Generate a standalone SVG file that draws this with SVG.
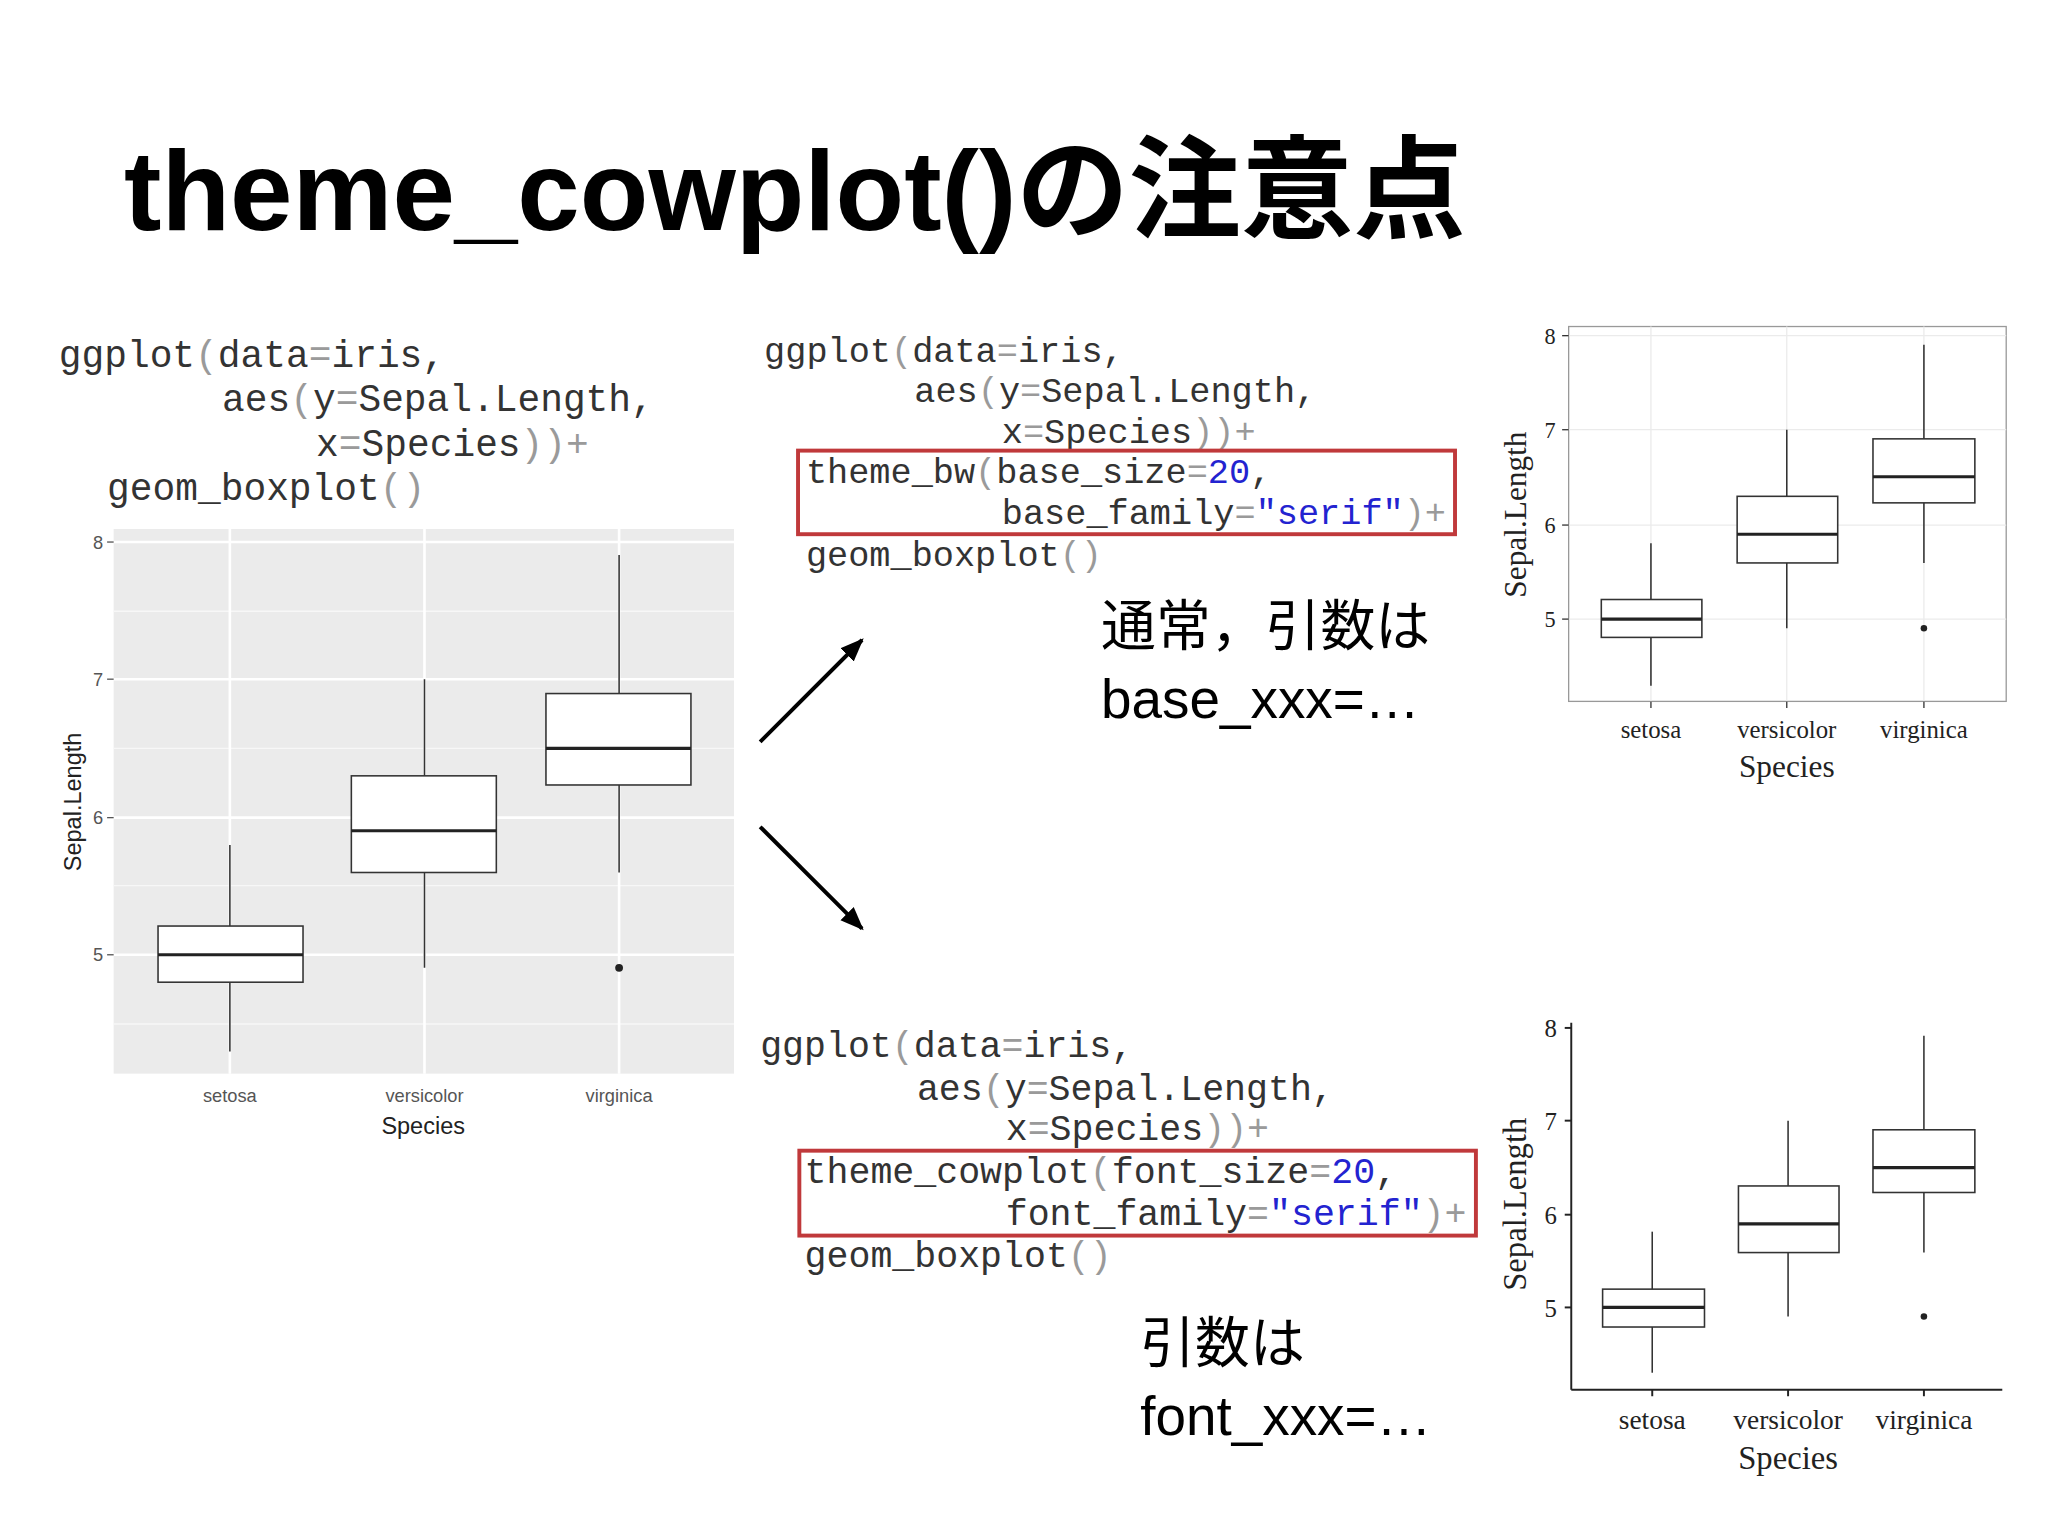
<svg xmlns="http://www.w3.org/2000/svg" width="2048" height="1536" viewBox="0 0 2048 1536">
<style>
.code{font-family:"Liberation Mono","DejaVu Sans Mono",monospace;fill:#333;}
.p{fill:#9a9a9a}
.b{fill:#2323d0}
.tk{font-family:"Liberation Sans",Arial,sans-serif;fill:#555;font-size:14px}
.sf{font-family:"Liberation Serif","Times New Roman",serif;fill:#222}
.box{fill:#fff;stroke:#333;stroke-width:1.2}
.med{stroke:#222;stroke-width:2.4}
.wh{stroke:#333;stroke-width:1.2}
.jp{font-family:"Liberation Sans","Noto Sans CJK JP",sans-serif;fill:#000}
.red{fill:none;stroke:#c0393b;stroke-width:3}
</style>
<defs>
<marker id="ah" viewBox="0 0 10 10" refX="9" refY="5" markerWidth="6" markerHeight="6" orient="auto"><path d="M0,1 L10,5 L0,9 z" fill="#000"/></marker>
</defs>
<rect width="2048" height="1536" fill="#fff"/>
<g transform="scale(1.30612)">
<text x="95" y="176" font-family="Liberation Sans,'Noto Sans CJK JP',sans-serif" font-weight="bold" font-size="86" fill="#000">theme_cowplot()の注意点</text>

<g id="code-left" class="code" font-size="29">
<text x="45" y="281">ggplot<tspan class="p">(</tspan>data<tspan class="p">=</tspan>iris,</text>
<text x="170" y="315">aes<tspan class="p">(</tspan>y<tspan class="p">=</tspan>Sepal.Length,</text>
<text x="242" y="349">x<tspan class="p">=</tspan>Species<tspan class="p">))+</tspan></text>
<text x="82" y="383">geom_boxplot<tspan class="p">()</tspan></text>
</g>

<g id="plot-left">
<rect x="87" y="405" width="475" height="417" fill="#ebebeb"/>
<g stroke="#f7f7f7" stroke-width="1"><line x1="87" x2="562" y1="784" y2="784"/><line x1="87" x2="562" y1="678" y2="678"/><line x1="87" x2="562" y1="573" y2="573"/><line x1="87" x2="562" y1="468" y2="468"/></g>
<g stroke="#fff" stroke-width="2"><line x1="87" x2="562" y1="731" y2="731"/><line x1="87" x2="562" y1="626" y2="626"/><line x1="87" x2="562" y1="520" y2="520"/><line x1="87" x2="562" y1="415" y2="415"/><line x1="176" x2="176" y1="405" y2="822"/><line x1="325" x2="325" y1="405" y2="822"/><line x1="474" x2="474" y1="405" y2="822"/></g>
<g stroke="#555"><line x1="82" x2="87" y1="731" y2="731"/><line x1="82" x2="87" y1="626" y2="626"/><line x1="82" x2="87" y1="520" y2="520"/><line x1="82" x2="87" y1="415" y2="415"/></g>
<line class="wh" x1="176" x2="176" y1="647" y2="805"/><rect class="box" x="121" y="709" width="111" height="43"/><line class="med" x1="121" x2="232" y1="731" y2="731"/>
<line class="wh" x1="325" x2="325" y1="520" y2="741"/><rect class="box" x="269" y="594" width="111" height="74"/><line class="med" x1="269" x2="380" y1="636" y2="636"/>
<line class="wh" x1="474" x2="474" y1="425" y2="668"/><rect class="box" x="418" y="531" width="111" height="70"/><line class="med" x1="418" x2="529" y1="573" y2="573"/>
<circle cx="474" cy="741" r="3" fill="#222"/>
<g class="tk" text-anchor="end"><text x="79" y="736">5</text><text x="79" y="631">6</text><text x="79" y="525">7</text><text x="79" y="420">8</text></g>
<g class="tk" text-anchor="middle"><text x="176" y="844">setosa</text><text x="325" y="844">versicolor</text><text x="474" y="844">virginica</text></g>
<text x="324" y="868" text-anchor="middle" font-family="Liberation Sans,Arial,sans-serif" font-size="18" fill="#222">Species</text>
<text transform="translate(62,614) rotate(-90)" text-anchor="middle" font-family="Liberation Sans,Arial,sans-serif" font-size="18" fill="#222">Sepal.Length</text>
</g>

<g id="connectors" stroke="#000" stroke-width="3" marker-end="url(#ah)">
<line x1="582" y1="568" x2="660" y2="490"/>
<line x1="582" y1="633" x2="660" y2="711"/>
</g>

<g id="code-top" class="code" font-size="27">
<text x="585" y="277">ggplot<tspan class="p">(</tspan>data<tspan class="p">=</tspan>iris,</text>
<text x="700" y="308">aes<tspan class="p">(</tspan>y<tspan class="p">=</tspan>Sepal.Length,</text>
<text x="767" y="339">x<tspan class="p">=</tspan>Species<tspan class="p">))+</tspan></text>
<text x="617" y="370">theme_bw<tspan class="p">(</tspan>base_size<tspan class="p">=</tspan><tspan class="b">20</tspan>,</text>
<text x="767" y="401">base_family<tspan class="p">=</tspan><tspan class="b">"serif"</tspan><tspan class="p">)+</tspan></text>
<text x="617" y="433">geom_boxplot<tspan class="p">()</tspan></text>
<rect class="red" x="611" y="345" width="503" height="64"/>
</g>
<g id="note-top" class="jp" font-size="42">
<text x="843" y="494">通常，引数は</text>
<text x="843" y="550">base_xxx=…</text>
</g>

<g id="plot-top-right">
<rect x="1201" y="250" width="335" height="287" fill="#fff" stroke="#999" stroke-width="1"/>
<g stroke="#ebebeb" stroke-width="1"><line x1="1201" x2="1536" y1="474" y2="474"/><line x1="1201" x2="1536" y1="402" y2="402"/><line x1="1201" x2="1536" y1="329" y2="329"/><line x1="1201" x2="1536" y1="257" y2="257"/><line x1="1264" x2="1264" y1="250" y2="537"/><line x1="1368" x2="1368" y1="250" y2="537"/><line x1="1473" x2="1473" y1="250" y2="537"/></g>
<g stroke="#333"><line x1="1196" x2="1201" y1="474" y2="474"/><line x1="1196" x2="1201" y1="402" y2="402"/><line x1="1196" x2="1201" y1="329" y2="329"/><line x1="1196" x2="1201" y1="257" y2="257"/><line x1="1264" x2="1264" y1="537" y2="542"/><line x1="1368" x2="1368" y1="537" y2="542"/><line x1="1473" x2="1473" y1="537" y2="542"/></g>
<line class="wh" x1="1264" x2="1264" y1="416" y2="525"/><rect class="box" x="1226" y="459" width="77" height="29"/><line class="med" x1="1226" x2="1303" y1="474" y2="474"/>
<line class="wh" x1="1368" x2="1368" y1="329" y2="481"/><rect class="box" x="1330" y="380" width="77" height="51"/><line class="med" x1="1330" x2="1407" y1="409" y2="409"/>
<line class="wh" x1="1473" x2="1473" y1="264" y2="431"/><rect class="box" x="1434" y="336" width="78" height="49"/><line class="med" x1="1434" x2="1512" y1="365" y2="365"/>
<circle cx="1473" cy="481" r="2.5" fill="#222"/>
<g class="sf" font-size="17" text-anchor="end"><text x="1191" y="480">5</text><text x="1191" y="408">6</text><text x="1191" y="335">7</text><text x="1191" y="263">8</text></g>
<g class="sf" font-size="19" text-anchor="middle"><text x="1264" y="565">setosa</text><text x="1368" y="565">versicolor</text><text x="1473" y="565">virginica</text></g>
<text class="sf" x="1368" y="595" font-size="24" text-anchor="middle">Species</text>
<text class="sf" transform="translate(1168,394) rotate(-90)" font-size="24" text-anchor="middle">Sepal.Length</text>
</g>

<g id="code-bottom" class="code" font-size="28">
<text x="582" y="809">ggplot<tspan class="p">(</tspan>data<tspan class="p">=</tspan>iris,</text>
<text x="702" y="842">aes<tspan class="p">(</tspan>y<tspan class="p">=</tspan>Sepal.Length,</text>
<text x="770" y="873">x<tspan class="p">=</tspan>Species<tspan class="p">))+</tspan></text>
<text x="616" y="906">theme_cowplot<tspan class="p">(</tspan>font_size<tspan class="p">=</tspan><tspan class="b">20</tspan>,</text>
<text x="770" y="938">font_family<tspan class="p">=</tspan><tspan class="b">"serif"</tspan><tspan class="p">)+</tspan></text>
<text x="616" y="970">geom_boxplot<tspan class="p">()</tspan></text>
<rect class="red" x="612" y="881" width="518" height="65"/>
</g>
<g id="note-bottom" class="jp" font-size="42">
<text x="873" y="1043">引数は</text>
<text x="873" y="1099">font_xxx=…</text>
</g>

<g id="plot-bottom-right">
<g stroke="#222" stroke-width="1.5"><line x1="1203" x2="1203" y1="783" y2="1064"/><line x1="1203" x2="1533" y1="1064" y2="1064"/>
<line x1="1198" x2="1203" y1="1001" y2="1001"/><line x1="1198" x2="1203" y1="930" y2="930"/><line x1="1198" x2="1203" y1="858" y2="858"/><line x1="1198" x2="1203" y1="787" y2="787"/><line x1="1265" x2="1265" y1="1064" y2="1069"/><line x1="1369" x2="1369" y1="1064" y2="1069"/><line x1="1473" x2="1473" y1="1064" y2="1069"/></g>
<line class="wh" x1="1265" x2="1265" y1="943" y2="1051"/><rect class="box" x="1227" y="987" width="78" height="29"/><line class="med" x1="1227" x2="1305" y1="1001" y2="1001"/>
<line class="wh" x1="1369" x2="1369" y1="858" y2="1008"/><rect class="box" x="1331" y="908" width="77" height="51"/><line class="med" x1="1331" x2="1408" y1="937" y2="937"/>
<line class="wh" x1="1473" x2="1473" y1="793" y2="959"/><rect class="box" x="1434" y="865" width="78" height="48"/><line class="med" x1="1434" x2="1512" y1="894" y2="894"/>
<circle cx="1473" cy="1008" r="2.5" fill="#222"/>
<g class="sf" font-size="19" text-anchor="end"><text x="1192" y="1008">5</text><text x="1192" y="937">6</text><text x="1192" y="865">7</text><text x="1192" y="794">8</text></g>
<g class="sf" font-size="21" text-anchor="middle"><text x="1265" y="1094">setosa</text><text x="1369" y="1094">versicolor</text><text x="1473" y="1094">virginica</text></g>
<text class="sf" x="1369" y="1125" font-size="25" text-anchor="middle">Species</text>
<text class="sf" transform="translate(1168,922) rotate(-90)" font-size="25" text-anchor="middle">Sepal.Length</text>
</g>
</g>
</svg>
